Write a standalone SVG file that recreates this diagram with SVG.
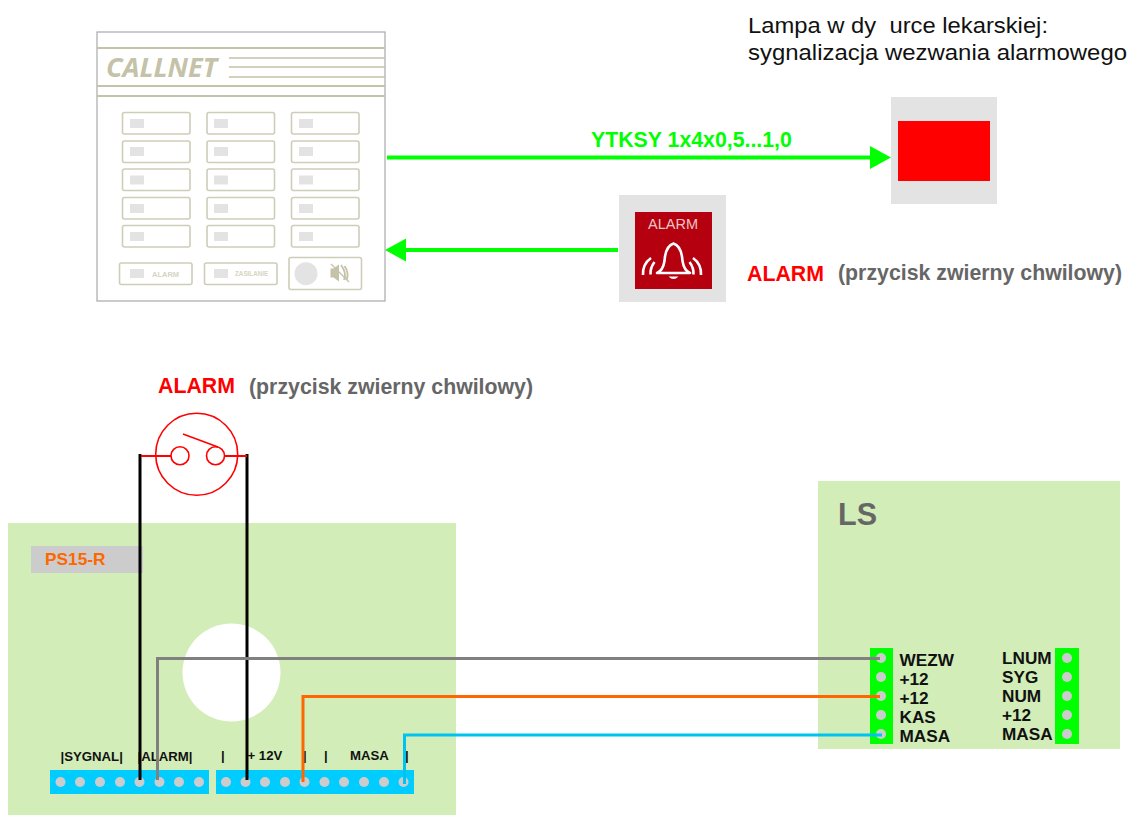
<svg xmlns="http://www.w3.org/2000/svg" width="1135" height="815" viewBox="0 0 1135 815">
<defs>
<style>
text{font-family:"Liberation Sans",Arial,sans-serif}
.b{font-weight:700}
.pl{fill:#c4c2a8}
.ln{stroke:#c4c2a8;stroke-width:2;fill:none}
.btn{fill:#fff;stroke:#cfcdb8;stroke-width:1.6}
.led{fill:#e3e3e3}
.dot{fill:#cccccc}
.board{fill:#d2edb8}
.strip{fill:#00ccff}
.gr{fill:#00ff00}
.wl{font-size:17.2px;font-weight:700;fill:#111}
.tl{font-size:13.2px;font-weight:700;fill:#111}
.sw{fill:none;stroke:#ff0000;stroke-width:1.6}
.w{fill:none;stroke-width:3}
</style>
</defs>

<g id="callnet">
<rect x="97" y="32" width="288" height="269" fill="#fff" stroke="#a9a9a9" stroke-width="1.2"/>
<path class="ln" d="M97 48H385M97 86H385M97 96H385"/>
<path class="ln" d="M229 58H385M229 67H385M229 77H385" style="stroke-width:1.6"/>
<text x="106" y="77" font-size="27" font-weight="700" font-style="italic" class="pl" style="font-family:'Open Sans','Liberation Sans',sans-serif" textLength="111" lengthAdjust="spacingAndGlyphs">CALLNET</text>
<g id="buttons">
<rect class="btn" x="122.500" y="112.500" width="67.500" height="21.500" rx="2"/><rect class="led" x="130" y="119" width="14" height="9"/>
<rect class="btn" x="207" y="112.500" width="67.500" height="21.500" rx="2"/><rect class="led" x="214" y="119" width="14" height="9"/>
<rect class="btn" x="291.500" y="112.500" width="67.500" height="21.500" rx="2"/><rect class="led" x="299" y="119" width="14" height="9"/>
<rect class="btn" x="122.500" y="141" width="67.500" height="21.500" rx="2"/><rect class="led" x="130" y="147" width="14" height="9"/>
<rect class="btn" x="207" y="141" width="67.500" height="21.500" rx="2"/><rect class="led" x="214" y="147" width="14" height="9"/>
<rect class="btn" x="291.500" y="141" width="67.500" height="21.500" rx="2"/><rect class="led" x="299" y="147" width="14" height="9"/>
<rect class="btn" x="122.500" y="169" width="67.500" height="21.500" rx="2"/><rect class="led" x="130" y="175.500" width="14" height="9"/>
<rect class="btn" x="207" y="169" width="67.500" height="21.500" rx="2"/><rect class="led" x="214" y="175.500" width="14" height="9"/>
<rect class="btn" x="291.500" y="169" width="67.500" height="21.500" rx="2"/><rect class="led" x="299" y="175.500" width="14" height="9"/>
<rect class="btn" x="122.500" y="197.500" width="67.500" height="21.500" rx="2"/><rect class="led" x="130" y="204" width="14" height="9"/>
<rect class="btn" x="207" y="197.500" width="67.500" height="21.500" rx="2"/><rect class="led" x="214" y="204" width="14" height="9"/>
<rect class="btn" x="291.500" y="197.500" width="67.500" height="21.500" rx="2"/><rect class="led" x="299" y="204" width="14" height="9"/>
<rect class="btn" x="122.500" y="225.500" width="67.500" height="21.500" rx="2"/><rect class="led" x="130" y="232" width="14" height="9"/>
<rect class="btn" x="207" y="225.500" width="67.500" height="21.500" rx="2"/><rect class="led" x="214" y="232" width="14" height="9"/>
<rect class="btn" x="291.500" y="225.500" width="67.500" height="21.500" rx="2"/><rect class="led" x="299" y="232" width="14" height="9"/>
<rect class="btn" x="119.500" y="263" width="72.500" height="21.500" rx="2"/><rect class="led" x="130" y="269" width="14" height="9"/>
<text x="152" y="277" font-size="7.500" font-weight="700" fill="#d6d4c2">ALARM</text>
<rect class="btn" x="204.500" y="263" width="72.500" height="21.500" rx="2"/><rect class="led" x="214" y="269" width="14" height="9"/>
<text x="235" y="276" font-size="6.300" font-weight="700" fill="#d6d4c2">ZASILANIE</text>
<rect class="btn" x="289" y="257.500" width="72.500" height="32" rx="2"/>
<circle cx="306" cy="273.700" r="11.500" fill="#e3e3e3"/>
<path d="M330.500 268.500h3l5.500-4v17l-5.500-4h-3z" fill="#c4c2a8"/>
<path d="M341 265q6 8 3 15M344.500 266q5 7 2 14" fill="none" stroke="#c4c2a8" stroke-width="1.800"/>
<path d="M331 264L349 282" stroke="#c4c2a8" stroke-width="1.200"/>
</g>
</g>

<g id="lamp">
<rect x="891" y="97" width="106" height="107" fill="#e3e3e3"/>
<rect x="898" y="121" width="92" height="60" fill="#ff0000"/>
<text x="748" y="33" font-size="21.300" fill="#111" xml:space="preserve" textLength="300" lengthAdjust="spacingAndGlyphs">Lampa w dy  urce lekarskiej:</text>
<text x="748" y="60" font-size="21.300" fill="#111" textLength="379" lengthAdjust="spacingAndGlyphs">sygnalizacja wezwania alarmowego</text>
</g>

<g id="alarm-button">
<rect x="619" y="195" width="107" height="107" fill="#e3e3e3"/>
<rect x="635" y="212" width="77" height="77" fill="#b5000f"/>
<text x="673" y="229" font-size="14.500" text-anchor="middle" fill="#f0c4c4">ALARM</text>
<path d="M657 273q6-2.500 7.500-12 1-15 9-17.500 8 2.500 9 17.500 1.500 9.500 7.500 12z" fill="none" stroke="#fff" stroke-width="2.600" stroke-linejoin="round"/>
<path d="M668.500 276.500h10q-5 5-10 0z" fill="#fff"/>
<path d="M651 258q-8.500 6-8 17M654.500 262q-4.500 6-4 12.500M693 258q8.500 6 8 17M689.500 262q4.500 6 4 12.500" fill="none" stroke="#fff" stroke-width="2.600"/>
<text x="747" y="281" font-size="21.300" class="b" fill="#ff0000">ALARM</text>
<text x="838" y="280" font-size="21.300" class="b" fill="#666">(przycisk zwierny chwilowy)</text>
</g>

<g id="ps15-board">
<rect class="board" x="8" y="523" width="448" height="292"/>
<rect x="31" y="546" width="112" height="27" fill="#cccccc"/>
<text x="45" y="565" font-size="17.300" class="b" fill="#ff6600">PS15-R</text>
<circle cx="231.500" cy="672.500" r="49" fill="#fff"/>
<rect class="strip" x="50" y="770" width="159" height="24"/>
<rect class="strip" x="216" y="770" width="198" height="24"/>
<g class="dot">
<circle cx="60.500" cy="782" r="5"/><circle cx="80" cy="782" r="5"/><circle cx="100" cy="782" r="5"/><circle cx="120" cy="782" r="5"/><circle cx="139.500" cy="782" r="5"/><circle cx="159.500" cy="782" r="5"/><circle cx="179" cy="782" r="5"/><circle cx="199" cy="782" r="5"/>
<circle cx="226" cy="782" r="5"/><circle cx="245.500" cy="782" r="5"/><circle cx="265" cy="782" r="5"/><circle cx="285" cy="782" r="5"/><circle cx="304.500" cy="782" r="5"/><circle cx="324.500" cy="782" r="5"/><circle cx="344" cy="782" r="5"/><circle cx="364" cy="782" r="5"/><circle cx="384" cy="782" r="5"/><circle cx="403.500" cy="782" r="5"/>
</g>
<text class="tl" x="60.500" y="761">|SYGNAL|</text>
<text class="tl" x="137.500" y="761">|ALARM|</text>
<text class="tl" x="221" y="760">|</text>
<text class="tl" x="247.500" y="760">+ 12V</text>
<text class="tl" x="303" y="760">|</text>
<text class="tl" x="324" y="760">|</text>
<text class="tl" x="350" y="760">MASA</text>
<text class="tl" x="405" y="760">|</text>
</g>

<g id="ls-board">
<rect class="board" x="818" y="481" width="302" height="268"/>
<text x="838" y="525" font-size="30.500" class="b" fill="#666">LS</text>
<rect class="gr" x="870" y="648" width="23" height="96"/>
<rect class="gr" x="1055" y="648" width="24" height="96"/>
<g class="dot">
<circle cx="881" cy="658" r="5"/><circle cx="881" cy="677" r="5"/><circle cx="881" cy="696" r="5"/><circle cx="881" cy="715" r="5"/><circle cx="881" cy="734" r="5"/>
<circle cx="1067" cy="658" r="5"/><circle cx="1067" cy="677" r="5"/><circle cx="1067" cy="696" r="5"/><circle cx="1067" cy="715" r="5"/><circle cx="1067" cy="734" r="5"/>
</g>
<text class="wl" x="899.500" y="666">WEZW</text>
<text class="wl" x="899.500" y="685">+12</text>
<text class="wl" x="899.500" y="704">+12</text>
<text class="wl" x="899.500" y="723">KAS</text>
<text class="wl" x="899.500" y="742">MASA</text>
<text class="wl" x="1002" y="664">LNUM</text>
<text class="wl" x="1002" y="683">SYG</text>
<text class="wl" x="1002" y="702">NUM</text>
<text class="wl" x="1002" y="721">+12</text>
<text class="wl" x="1002" y="740">MASA</text>
</g>

<g id="switch">
<text x="158" y="393" font-size="21.300" class="b" fill="#ff0000">ALARM</text>
<text x="249" y="394" font-size="21.300" class="b" fill="#666">(przycisk zwierny chwilowy)</text>
<circle class="sw" cx="196.700" cy="454.300" r="41"/>
<circle class="sw" cx="180" cy="455.700" r="9"/>
<circle class="sw" cx="215.500" cy="455.700" r="9"/>
<path class="sw" d="M183 434L218 447"/>
</g>

<g id="connectors">
<path d="M387 157.500H872" stroke="#00ff00" stroke-width="4" fill="none"/>
<path d="M891 157.500L870 146V169z" fill="#00ff00"/>
<text x="591" y="147" font-size="21.300" class="b" fill="#00ff00">YTKSY 1x4x0,5...1,0</text>
<path d="M404 250H618" stroke="#00ff00" stroke-width="4" fill="none"/>
<path d="M385 250L406 238.500V261.500z" fill="#00ff00"/>
<path class="w" stroke="#000" d="M140 780V454"/>
<path class="w" stroke="#000" d="M247 780V454"/>
<path stroke="#ff0000" stroke-width="2" fill="none" d="M141 456H171M224.500 456H247"/>
<path class="w" stroke="#808080" d="M157.500 780V658.500H880"/>
<path class="w" stroke="#ff6600" d="M303 782V696.500H880"/>
<path stroke="#00c4f0" stroke-width="3" fill="none" d="M404.500 784V735H882"/>
</g>
</svg>
